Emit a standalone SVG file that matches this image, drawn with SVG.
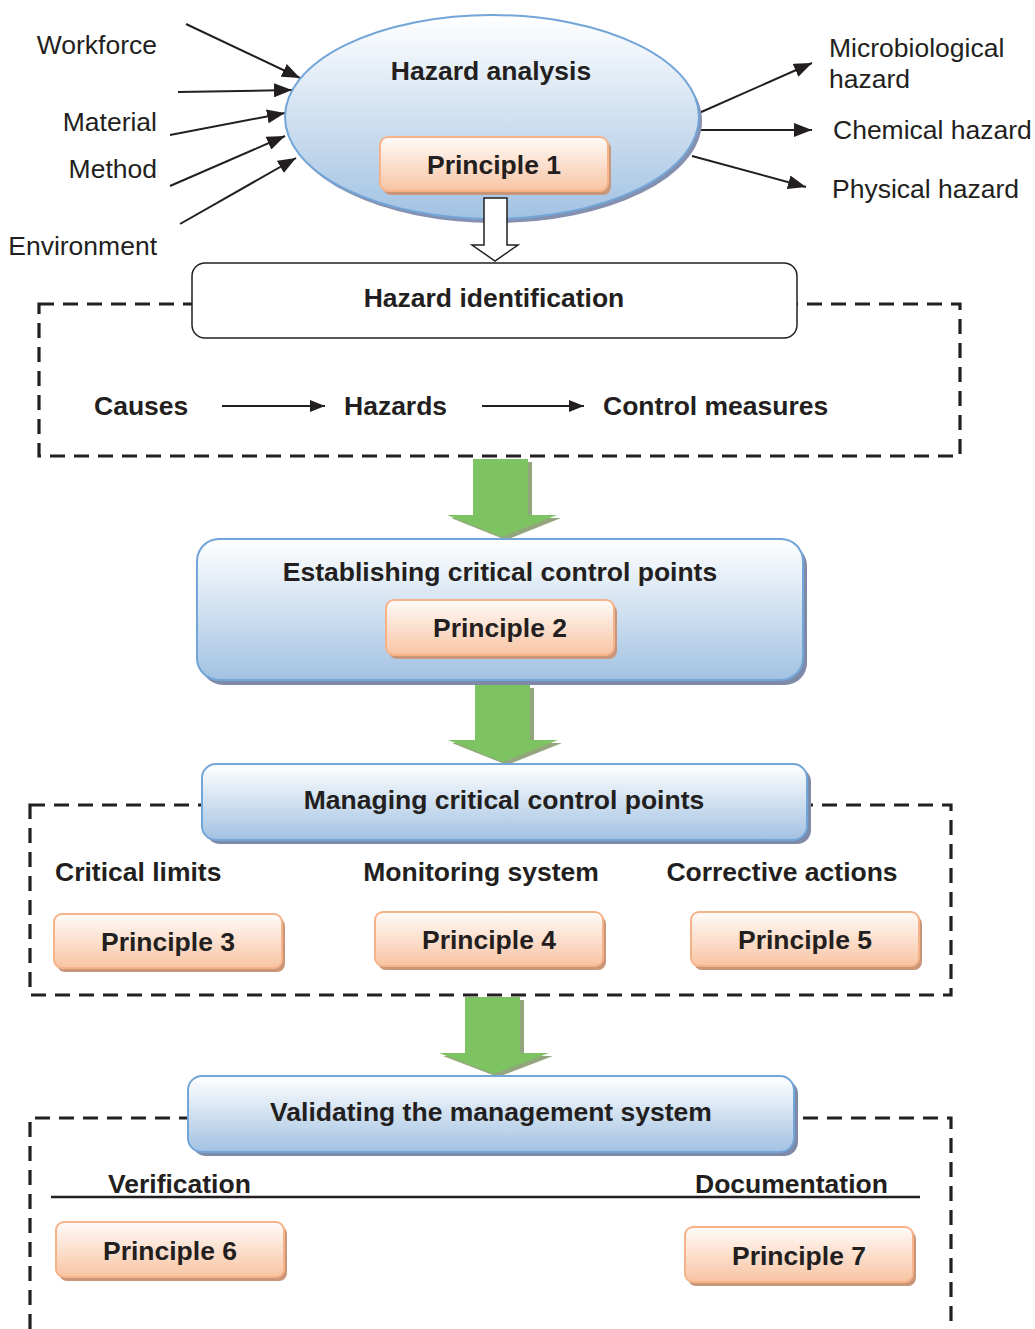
<svg xmlns="http://www.w3.org/2000/svg" width="1035" height="1329" viewBox="0 0 1035 1329">
<style>
text{font-family:"Liberation Sans",Arial,sans-serif;fill:#231f20}
.reg{font-size:26.5px}
.b{font-size:26.5px;font-weight:bold}
.c{text-anchor:middle}
.r{text-anchor:end}
.blue{fill:url(#gBlue);stroke:#72a5d8;stroke-width:2}
.bsh{fill:#7f89a8}
.org{fill:url(#gOrg);stroke:#f6b38a;stroke-width:2}
.osh{fill:#c9967a}
.dash{fill:none;stroke:#231f20;stroke-width:3.2;stroke-dasharray:15 9}
.ln{stroke:#231f20;stroke-width:2;fill:none}
.green{fill:#7ec361}
.gsh{fill:#93a57c}
</style>
<defs>
<linearGradient id="gBlue" x1="0" y1="0" x2="0" y2="1">
<stop offset="0" stop-color="#ffffff"/>
<stop offset="1" stop-color="#a2c2e2"/>
</linearGradient>
<linearGradient id="gOrg" x1="0" y1="0" x2="0" y2="1">
<stop offset="0" stop-color="#fffbf9"/>
<stop offset="1" stop-color="#f8c4a3"/>
</linearGradient>
<marker id="ah" markerUnits="userSpaceOnUse" markerWidth="18" markerHeight="14" refX="18" refY="7" orient="auto">
<path d="M0,0 L18,7 L0,14 z" fill="#231f20"/>
</marker>
<marker id="ahs" markerUnits="userSpaceOnUse" markerWidth="15" markerHeight="12" refX="15" refY="6" orient="auto">
<path d="M0,0 L15,6 L0,12 z" fill="#231f20"/>
</marker>
</defs>

<!-- dashed frames -->
<g id="frames">
<rect class="dash" x="39" y="304" width="921" height="152"/>
<rect class="dash" x="30" y="805" width="921" height="190"/>
<path class="dash" d="M30,1329 V1118 H951 V1329"/>
</g>

<!-- connectors -->
<g id="connectors">
<line class="ln" x1="186" y1="24" x2="300" y2="78" marker-end="url(#ah)"/>
<line class="ln" x1="178" y1="92" x2="292" y2="90" marker-end="url(#ah)"/>
<line class="ln" x1="170" y1="135" x2="285" y2="113" marker-end="url(#ah)"/>
<line class="ln" x1="170" y1="186" x2="285" y2="136" marker-end="url(#ah)"/>
<line class="ln" x1="180" y1="224" x2="296" y2="158" marker-end="url(#ah)"/>
<line class="ln" x1="699" y1="113" x2="812" y2="63" marker-end="url(#ah)"/>
<line class="ln" x1="700" y1="130" x2="812" y2="130" marker-end="url(#ah)"/>
<line class="ln" x1="692" y1="156" x2="806" y2="187" marker-end="url(#ah)"/>
<line class="ln" x1="222" y1="406" x2="325" y2="406" marker-end="url(#ahs)"/>
<line class="ln" x1="482" y1="406" x2="584" y2="406" marker-end="url(#ahs)"/>
<g id="green1">
<polygon class="gsh" points="477,462 532,462 532,518 561,518 506,540 451,518 477,518"/>
<polygon class="green" points="473,459 528,459 528,515 557,515 502,537 447,515 473,515"/>
</g>
<g id="green2">
<polygon class="gsh" points="479,688 534,688 534,743 562,743 507,765 452,743 479,743"/>
<polygon class="green" points="475,685 530,685 530,740 558,740 503,762 448,740 475,740"/>
</g>
<g id="green3">
<polygon class="gsh" points="469,1000 524,1000 524,1056 553,1056 498,1077 443,1056 469,1056"/>
<polygon class="green" points="465,997 520,997 520,1053 549,1053 494,1074 439,1053 465,1053"/>
</g>
<line x1="51" y1="1197" x2="920" y2="1197" stroke="#231f20" stroke-width="2.5"/>
</g>

<!-- input/output labels -->
<g id="inputs">
<text class="reg r" x="157" y="54">Workforce</text>
<text class="reg r" x="157" y="131">Material</text>
<text class="reg r" x="157" y="178">Method</text>
<text class="reg r" x="157" y="255">Environment</text>
</g>
<g id="outputs">
<text class="reg" x="829" y="57">Microbiological</text>
<text class="reg" x="829" y="88">hazard</text>
<text class="reg" x="833" y="139">Chemical hazard</text>
<text class="reg" x="832" y="198">Physical hazard</text>
</g>

<!-- Hazard analysis -->
<g id="hazard-analysis">
<ellipse cx="495" cy="121" rx="207" ry="102" fill="#8590b0"/>
<ellipse class="blue" cx="492" cy="117" rx="207" ry="102"/>
<text class="b c" x="491" y="80">Hazard analysis</text>
</g>
<g id="principle1">
<rect class="osh" x="383" y="141" width="228" height="54" rx="8"/>
<rect class="org" x="380" y="137" width="228" height="54" rx="8"/>
<text class="b c" x="494" y="174">Principle 1</text>
</g>
<g id="hollow-arrow">
<polygon points="484,198 507,198 507,245 518,245 495,261 472,245 484,245" fill="#fff" stroke="#231f20" stroke-width="1.5"/>
</g>

<!-- Hazard identification -->
<g id="hazard-identification">
<rect x="192" y="263" width="605" height="75" rx="13" fill="#fff" stroke="#231f20" stroke-width="1.5"/>
<text class="b c" x="494" y="307">Hazard identification</text>
</g>
<g id="causes"><text class="b" x="94" y="415">Causes</text></g>
<g id="hazards"><text class="b" x="344" y="415">Hazards</text></g>
<g id="control-measures"><text class="b" x="603" y="415">Control measures</text></g>

<!-- Establishing -->
<g id="establishing">
<rect class="bsh" x="201" y="544" width="606" height="141" rx="22"/>
<rect class="blue" x="197" y="539" width="606" height="141" rx="22"/>
<text class="b c" x="500" y="581">Establishing critical control points</text>
</g>
<g id="principle2">
<rect class="osh" x="389" y="604" width="228" height="55" rx="8"/>
<rect class="org" x="386" y="600" width="228" height="55" rx="8"/>
<text class="b c" x="500" y="637">Principle 2</text>
</g>

<!-- Managing -->
<g id="managing">
<rect class="bsh" x="206" y="768" width="605" height="76" rx="14"/>
<rect class="blue" x="202" y="764" width="605" height="76" rx="14"/>
<text class="b c" x="504" y="809">Managing critical control points</text>
</g>
<g id="critical-limits"><text class="b" x="55" y="881">Critical limits</text></g>
<g id="monitoring"><text class="b c" x="481" y="881">Monitoring system</text></g>
<g id="corrective"><text class="b c" x="782" y="881">Corrective actions</text></g>
<g id="principle3">
<rect class="osh" x="57" y="918" width="228" height="54" rx="8"/>
<rect class="org" x="54" y="914" width="228" height="54" rx="8"/>
<text class="b c" x="168" y="951">Principle 3</text>
</g>
<g id="principle4">
<rect class="osh" x="378" y="916" width="228" height="54" rx="8"/>
<rect class="org" x="375" y="912" width="228" height="54" rx="8"/>
<text class="b c" x="489" y="949">Principle 4</text>
</g>
<g id="principle5">
<rect class="osh" x="694" y="916" width="228" height="54" rx="8"/>
<rect class="org" x="691" y="912" width="228" height="54" rx="8"/>
<text class="b c" x="805" y="949">Principle 5</text>
</g>

<!-- Validating -->
<g id="validating">
<rect class="bsh" x="192" y="1080" width="606" height="76" rx="14"/>
<rect class="blue" x="188" y="1076" width="606" height="76" rx="14"/>
<text class="b c" x="491" y="1121">Validating the management system</text>
</g>
<g id="verification"><text class="b" x="108" y="1193">Verification</text></g>
<g id="documentation"><text class="b" x="695" y="1193">Documentation</text></g>
<g id="principle6">
<rect class="osh" x="59" y="1226" width="228" height="55" rx="8"/>
<rect class="org" x="56" y="1222" width="228" height="55" rx="8"/>
<text class="b c" x="170" y="1260">Principle 6</text>
</g>
<g id="principle7">
<rect class="osh" x="688" y="1231" width="228" height="55" rx="8"/>
<rect class="org" x="685" y="1227" width="228" height="55" rx="8"/>
<text class="b c" x="799" y="1265">Principle 7</text>
</g>
</svg>
